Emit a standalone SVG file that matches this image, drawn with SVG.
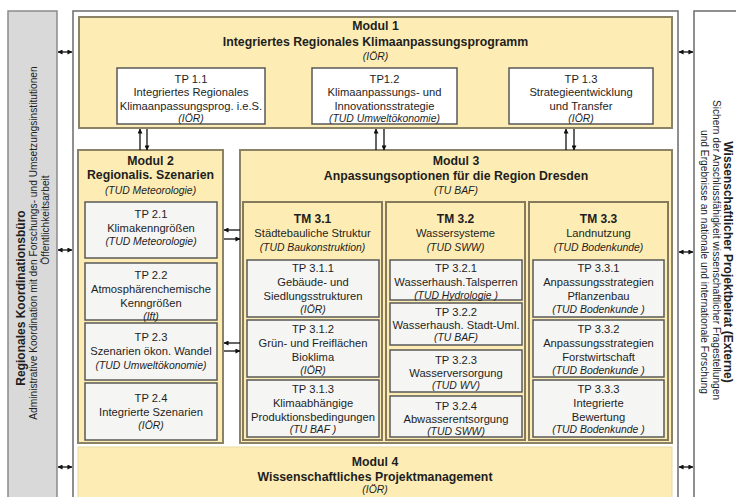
<svg xmlns="http://www.w3.org/2000/svg" width="736" height="497" viewBox="0 0 736 497">
<style>
text{font-family:"Liberation Sans",Arial,sans-serif;fill:#1e1e1e;text-anchor:middle;dominant-baseline:central}
.h{font-weight:bold;font-size:12.3px}
.hm{font-weight:bold;font-size:12px}
.t{font-size:11.2px}
.i{font-style:italic;font-size:10.4px}
.sb{font-weight:bold;font-size:12px}
.st{font-size:10.2px}
.mod{fill:#fdedb4;stroke:#8c8266;stroke-width:2}
.tm{fill:#fdedb4;stroke:#857a5c;stroke-width:2}
.tp{fill:#f5f5f3;stroke:#585858;stroke-width:1.5}
.tp1{fill:#ffffff;stroke:#585858;stroke-width:1.5}
.ar{stroke:#111;stroke-width:1.3;fill:none}
</style>
<defs>
<marker id="ah" viewBox="0 0 6 6" refX="5.5" refY="3" markerWidth="5" markerHeight="5" markerUnits="userSpaceOnUse" orient="auto-start-reverse">
<path d="M0,0 L6,3 L0,6 z" fill="#111"/>
</marker>
</defs>

<g id="frame">
<rect x="73" y="11" width="605" height="495" fill="#ffffff" stroke="#6b6b6b" stroke-width="1.5"/>
</g>

<g id="koordinationsbuero">
<rect x="8" y="11" width="49" height="495" fill="#d9d9d9" stroke="#8a8a8a" stroke-width="1.5"/>
<text class="sb" transform="translate(21,298) rotate(-90)">Regionales Koordinationsbüro</text>
<text class="st" transform="translate(33,243) rotate(-90)">Administrative Koordination mit den Forschungs- und Umsetzungsinstitutionen</text>
<text class="st" transform="translate(45,220) rotate(-90)">Öffentlichkeitsarbeit</text>
</g>

<g id="projektbeirat">
<rect x="694" y="11" width="50" height="495" fill="#ffffff" stroke="#6b6b6b" stroke-width="1.5"/>
<text class="sb" transform="translate(728,262) rotate(90)">Wissenschaftlicher Projektbeirat (Externe)</text>
<text class="st" transform="translate(716,250) rotate(90)">Sichern der Anschlussfähigkeit wissenschaftlicher Fragestellungen</text>
<text class="st" transform="translate(704,262) rotate(90)">und Ergebnisse an nationale und internationale Forschung</text>
</g>

<g id="modul1">
<rect class="mod" x="79" y="17" width="593" height="111"/>
<text class="h" x="375.5" y="26">Modul 1</text>
<text class="h" x="375.5" y="42">Integriertes Regionales Klimaanpassungsprogramm</text>
<text class="i" x="375.5" y="56">(IÖR)</text>
</g>
<g id="tp1_1">
<rect class="tp1" x="117" y="68" width="148" height="56"/>
<text class="t" x="191" y="79">TP 1.1</text>
<text class="t" x="191" y="92">Integriertes Regionales</text>
<text class="t" x="191" y="106">Klimaanpassungsprog. i.e.S.</text>
<text class="i" x="191" y="118">(IÖR)</text>
</g>
<g id="tp1_2">
<rect class="tp1" x="312" y="68" width="145" height="56"/>
<text class="t" x="384.5" y="79">TP1.2</text>
<text class="t" x="384.5" y="92">Klimaanpassungs- und</text>
<text class="t" x="384.5" y="106">Innovationsstrategie</text>
<text class="i" x="384.5" y="118">(TUD Umweltökonomie)</text>
</g>
<g id="tp1_3">
<rect class="tp1" x="509" y="68" width="144" height="56"/>
<text class="t" x="581" y="79">TP 1.3</text>
<text class="t" x="581" y="92">Strategieentwicklung</text>
<text class="t" x="581" y="106">und Transfer</text>
<text class="i" x="581" y="118">(IÖR)</text>
</g>

<g id="modul2">
<rect class="mod" x="78" y="150" width="145" height="293"/>
<text class="h" x="150.5" y="161">Modul 2</text>
<text class="h" x="150.5" y="175">Regionalis. Szenarien</text>
<text class="i" x="150.5" y="190">(TUD Meteorologie)</text>
</g>
<g id="tp2_1">
<rect class="tp" x="85" y="202" width="132" height="56"/>
<text class="t" x="151" y="214">TP 2.1</text>
<text class="t" x="151" y="228">Klimakenngrößen</text>
<text class="i" x="151" y="241">(TUD Meteorologie)</text>
</g>
<g id="tp2_2">
<rect class="tp" x="85" y="263" width="132" height="57"/>
<text class="t" x="151" y="275">TP 2.2</text>
<text class="t" x="151" y="289">Atmosphärenchemische</text>
<text class="t" x="151" y="303">Kenngrößen</text>
<text class="i" x="151" y="316">(Ift)</text>
</g>
<g id="tp2_3">
<rect class="tp" x="85" y="323" width="132" height="57"/>
<text class="t" x="151" y="337">TP 2.3</text>
<text class="t" x="151" y="351">Szenarien ökon. Wandel</text>
<text class="i" x="151" y="365">(TUD Umweltökonomie)</text>
</g>
<g id="tp2_4">
<rect class="tp" x="85" y="383" width="132" height="57"/>
<text class="t" x="151" y="398">TP 2.4</text>
<text class="t" x="151" y="412">Integrierte Szenarien</text>
<text class="i" x="151" y="425">(IÖR)</text>
</g>

<g id="modul3">
<rect class="mod" x="240" y="150" width="432" height="293"/>
<text class="h" x="456" y="161">Modul 3</text>
<text class="h" x="456" y="176">Anpassungsoptionen für die Region Dresden</text>
<text class="i" x="456" y="190">(TU BAF)</text>
</g>
<g id="tm3_1">
<rect class="tm" x="243" y="202" width="139" height="238"/>
<text class="hm" x="312.5" y="219">TM 3.1</text>
<text class="t" x="312.5" y="233">Städtebauliche Struktur</text>
<text class="i" x="312.5" y="247">(TUD Baukonstruktion)</text>
</g>
<g id="tp3_1_1">
<rect class="tp" x="247" y="260" width="132" height="57"/>
<text class="t" x="313" y="268">TP 3.1.1</text>
<text class="t" x="313" y="282">Gebäude- und</text>
<text class="t" x="313" y="296">Siedlungsstrukturen</text>
<text class="i" x="313" y="309">(IÖR)</text>
</g>
<g id="tp3_1_2">
<rect class="tp" x="247" y="320" width="132" height="57"/>
<text class="t" x="313" y="329">TP 3.1.2</text>
<text class="t" x="313" y="343">Grün- und Freiflächen</text>
<text class="t" x="313" y="357">Bioklima</text>
<text class="i" x="313" y="370">(IÖR)</text>
</g>
<g id="tp3_1_3">
<rect class="tp" x="247" y="380" width="132" height="57"/>
<text class="t" x="313" y="389">TP 3.1.3</text>
<text class="t" x="313" y="403">Klimaabhängige</text>
<text class="t" x="313" y="417">Produktionsbedingungen</text>
<text class="i" x="313" y="429">(TU BAF )</text>
</g>
<g id="tm3_2">
<rect class="tm" x="386" y="202" width="139" height="238"/>
<text class="hm" x="455.5" y="219">TM 3.2</text>
<text class="t" x="455.5" y="233">Wassersysteme</text>
<text class="i" x="455.5" y="247">(TUD SWW)</text>
</g>
<g id="tp3_2_1">
<rect class="tp" x="390" y="260" width="132" height="40"/>
<text class="t" x="456" y="268">TP 3.2.1</text>
<text class="t" x="456" y="282">Wasserhaush.Talsperren</text>
<text class="i" x="456" y="295">(TUD Hydrologie )</text>
</g>
<g id="tp3_2_2">
<rect class="tp" x="390" y="303" width="132" height="42"/>
<text class="t" x="456" y="312">TP 3.2.2</text>
<text class="t" x="456" y="325">Wasserhaush. Stadt-Uml.</text>
<text class="i" x="456" y="337">(TU BAF)</text>
</g>
<g id="tp3_2_3">
<rect class="tp" x="390" y="350" width="132" height="42"/>
<text class="t" x="456" y="360">TP 3.2.3</text>
<text class="t" x="456" y="373">Wasserversorgung</text>
<text class="i" x="456" y="385">(TUD WV)</text>
</g>
<g id="tp3_2_4">
<rect class="tp" x="390" y="396" width="132" height="41"/>
<text class="t" x="456" y="406">TP 3.2.4</text>
<text class="t" x="456" y="419">Abwasserentsorgung</text>
<text class="i" x="456" y="431">(TUD SWW)</text>
</g>
<g id="tm3_3">
<rect class="tm" x="529" y="202" width="139" height="238"/>
<text class="hm" x="598.5" y="219">TM 3.3</text>
<text class="t" x="598.5" y="233">Landnutzung</text>
<text class="i" x="598.5" y="247">(TUD Bodenkunde)</text>
</g>
<g id="tp3_3_1">
<rect class="tp" x="533" y="260" width="131" height="57"/>
<text class="t" x="598.5" y="268">TP 3.3.1</text>
<text class="t" x="598.5" y="282">Anpassungsstrategien</text>
<text class="t" x="598.5" y="296">Pflanzenbau</text>
<text class="i" x="598.5" y="309">(TUD Bodenkunde )</text>
</g>
<g id="tp3_3_2">
<rect class="tp" x="533" y="320" width="131" height="57"/>
<text class="t" x="598.5" y="329">TP 3.3.2</text>
<text class="t" x="598.5" y="343">Anpassungsstrategien</text>
<text class="t" x="598.5" y="357">Forstwirtschaft</text>
<text class="i" x="598.5" y="370">(TUD Bodenkunde )</text>
</g>
<g id="tp3_3_3">
<rect class="tp" x="533" y="380" width="131" height="57"/>
<text class="t" x="598.5" y="389">TP 3.3.3</text>
<text class="t" x="598.5" y="403">Integrierte</text>
<text class="t" x="598.5" y="417">Bewertung</text>
<text class="i" x="598.5" y="429">(TUD Bodenkunde )</text>
</g>

<g id="modul4">
<rect x="78" y="447" width="594" height="60" fill="#fdedb4" stroke="#e8d9a0" stroke-width="1"/>
<text class="h" x="375" y="462">Modul 4</text>
<text class="h" x="375" y="477">Wissenschaftliches Projektmanagement</text>
<text class="i" x="375" y="489">(IÖR)</text>
</g>

<g id="connectors">
<line class="ar" x1="58" y1="52" x2="72" y2="52" marker-start="url(#ah)" marker-end="url(#ah)"/>
<line class="ar" x1="58" y1="250" x2="72" y2="250" marker-start="url(#ah)" marker-end="url(#ah)"/>
<line class="ar" x1="58" y1="467" x2="72" y2="467" marker-start="url(#ah)" marker-end="url(#ah)"/>
<line class="ar" x1="679" y1="52" x2="693" y2="52" marker-start="url(#ah)" marker-end="url(#ah)"/>
<line class="ar" x1="679" y1="252" x2="693" y2="252" marker-start="url(#ah)" marker-end="url(#ah)"/>
<line class="ar" x1="679" y1="467" x2="693" y2="467" marker-start="url(#ah)" marker-end="url(#ah)"/>
<line class="ar" x1="140" y1="150" x2="140" y2="129" marker-end="url(#ah)"/>
<line class="ar" x1="147" y1="129" x2="147" y2="150" marker-end="url(#ah)"/>
<line class="ar" x1="376" y1="150" x2="376" y2="129" marker-end="url(#ah)"/>
<line class="ar" x1="384" y1="129" x2="384" y2="150" marker-end="url(#ah)"/>
<line class="ar" x1="566" y1="150" x2="566" y2="129" marker-end="url(#ah)"/>
<line class="ar" x1="574" y1="129" x2="574" y2="150" marker-end="url(#ah)"/>
<line class="ar" x1="240" y1="230" x2="224" y2="230" marker-end="url(#ah)"/>
<line class="ar" x1="224" y1="239" x2="240" y2="239" marker-end="url(#ah)"/>
<line class="ar" x1="240" y1="343" x2="224" y2="343" marker-end="url(#ah)"/>
<line class="ar" x1="224" y1="351" x2="240" y2="351" marker-end="url(#ah)"/>
</g>
</svg>
